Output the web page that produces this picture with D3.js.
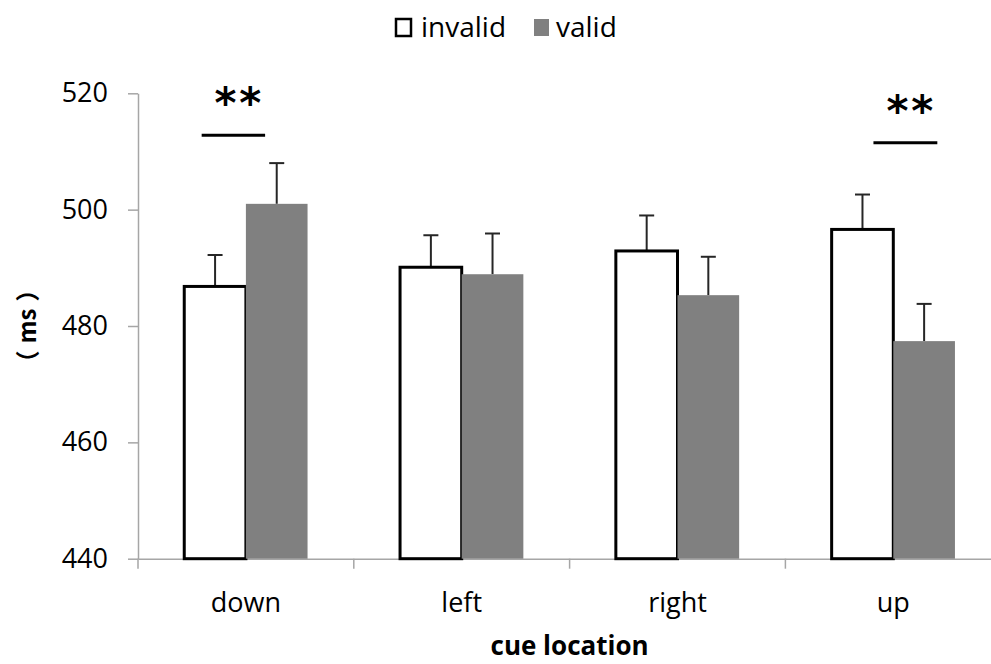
<!DOCTYPE html>
<html>
<head>
<meta charset="utf-8">
<script src="https://cdn.jsdelivr.net/npm/d3@7"></script>
<style>
  body { margin: 0; background: #fff; }
  svg { display: block; font-family: "Open Sans", sans-serif; }
</style>
</head>
<body>
<div id="chart"></div>
<script>
// cue location x condition, mean RT (ms) with standard error
const categories = ['down', 'left', 'right', 'up'];
const conditions = ['invalid', 'valid'];
const invalidMeans = [486.8, 490.1, 492.9, 496.6];
const invalidErrors = [5.4, 5.5, 6.1, 6.0];
const validMeans = [501.0, 488.9, 485.3, 477.4];
const validErrors = [7.0, 7.0, 6.6, 6.4];
const yTicks = [440, 460, 480, 500, 520];

// significance brackets
const sigCategories = ['down', 'up'];
const sigLevels = [512.8, 511.5];
const sigLabels = ['**', '**'];

(function() {
  const width = 991, height = 664;
  const left = 138, right = 1001.2, top = 93.3, bottom = 558.7;

  const svg = d3.select('#chart')
    .append('svg')
    .attr('width', width)
    .attr('height', height);

  const x = d3.scaleBand()
    .domain(categories)
    .range([left, right]);

  const groupWidth = 123.3;
  const xSub = d3.scaleBand()
    .domain(conditions)
    .range([0, groupWidth]);

  const y = d3.scaleLinear()
    .domain([440, 520])
    .range([bottom, top]);

  const axisColor = '#a6a6a6';

  // y axis
  const yAxis = svg.append('g')
    .attr('transform', `translate(${left},0)`)
    .call(d3.axisLeft(y).tickValues(yTicks).tickSize(10).tickSizeOuter(0).tickPadding(20));
  yAxis.selectAll('path, line').attr('stroke', axisColor).attr('stroke-width', 1.5);
  yAxis.selectAll('text')
    .style('font-size', '27px')
    .style('font-family', '"Open Sans", sans-serif')
    .attr('fill', '#000');

  // x axis: labels at band centres, ticks at band edges
  const xAxis = svg.append('g')
    .attr('transform', `translate(0,${bottom})`)
    .call(d3.axisBottom(x).tickSize(0).tickSizeOuter(0).tickPadding(34));
  xAxis.select('.domain').attr('stroke', axisColor).attr('stroke-width', 1.5);
  xAxis.selectAll('text')
    .style('font-size', '27px')
    .style('font-family', '"Open Sans", sans-serif')
    .attr('fill', '#000');

  const edges = categories.map(d => x(d)).concat([x(categories[categories.length - 1]) + x.bandwidth()]);
  svg.append('g')
    .selectAll('line')
    .data(edges)
    .enter()
    .append('line')
    .attr('x1', d => d)
    .attr('x2', d => d)
    .attr('y1', bottom)
    .attr('y2', bottom + 10)
    .attr('stroke', axisColor)
    .attr('stroke-width', 1.5);

  // bar data
  const rows = [];
  categories.forEach((c, i) => {
    rows.push({ cat: c, cond: 'invalid', mean: invalidMeans[i], se: invalidErrors[i] });
    rows.push({ cat: c, cond: 'valid', mean: validMeans[i], se: validErrors[i] });
  });
  const offset = (x.bandwidth() - groupWidth) / 2;
  const barX = d => x(d.cat) + offset + xSub(d.cond);

  // error bars (upper only)
  const err = svg.append('g');
  err.selectAll('.err-v')
    .data(rows)
    .enter()
    .append('line')
    .attr('x1', d => barX(d) + xSub.bandwidth() / 2)
    .attr('x2', d => barX(d) + xSub.bandwidth() / 2)
    .attr('y1', d => y(d.mean))
    .attr('y2', d => y(d.mean + d.se))
    .attr('stroke', '#262626')
    .attr('stroke-width', 2);
  err.selectAll('.err-cap')
    .data(rows)
    .enter()
    .append('line')
    .attr('x1', d => barX(d) + xSub.bandwidth() / 2 - 7.5)
    .attr('x2', d => barX(d) + xSub.bandwidth() / 2 + 7.5)
    .attr('y1', d => y(d.mean + d.se))
    .attr('y2', d => y(d.mean + d.se))
    .attr('stroke', '#262626')
    .attr('stroke-width', 2);

  // bars
  svg.append('g')
    .selectAll('rect')
    .data(rows)
    .enter()
    .append('rect')
    .attr('x', barX)
    .attr('y', d => y(d.mean))
    .attr('width', xSub.bandwidth())
    .attr('height', d => y(440) - y(d.mean))
    .attr('fill', d => d.cond === 'invalid' ? '#fff' : '#808080')
    .attr('stroke', d => d.cond === 'invalid' ? '#000' : 'none')
    .attr('stroke-width', 3);

  // significance markers
  const sigSpan = { down: [0.295, 0.589], up: [0.408, 0.704] };
  sigCategories.forEach((c, i) => {
    const x0 = x(c) + sigSpan[c][0] * x.bandwidth();
    const x1 = x(c) + sigSpan[c][1] * x.bandwidth();
    const ly = y(sigLevels[i]);
    svg.append('line')
      .attr('x1', x0)
      .attr('x2', x1)
      .attr('y1', ly)
      .attr('y2', ly)
      .attr('stroke', '#000')
      .attr('stroke-width', 3);
    svg.append('text')
      .attr('x', (x0 + x1) / 2 + 6)
      .attr('y', ly - 17)
      .attr('text-anchor', 'middle')
      .style('font-size', '42px')
      .style('font-weight', 'bold')
      .style('font-family', '"DejaVu Sans", sans-serif')
      .style('letter-spacing', '3px')
      .text(sigLabels[i]);
  });

  // axis titles
  svg.append('text')
    .attr('x', (left + right) / 2)
    .attr('y', 655)
    .attr('text-anchor', 'middle')
    .style('font-size', '26px')
    .style('font-weight', 'bold')
    .text('cue location');

  const yTitle = svg.append('text')
    .attr('transform', `translate(36,${(top + bottom) / 2}) rotate(-90)`)
    .attr('text-anchor', 'middle')
    .style('font-size', '24px')
    .style('font-weight', 'bold')
    .style('font-family', '"Noto Sans CJK SC", sans-serif');
  yTitle.append('tspan').text('（');
  yTitle.append('tspan').attr('dx', 7).text('ms');
  yTitle.append('tspan').attr('dx', 7).text('）');

  // legend
  const legend = svg.append('g');
  const legendItems = [
    { label: 'invalid', x: 395, tx: 421 },
    { label: 'valid', x: 533, tx: 556 }
  ];
  legendItems.forEach(d => {
    legend.append('rect')
      .attr('x', d.x + 1)
      .attr('y', 19)
      .attr('width', 15)
      .attr('height', 17)
      .attr('fill', d.label === 'invalid' ? '#fff' : '#808080')
      .attr('stroke', d.label === 'invalid' ? '#000' : 'none')
      .attr('stroke-width', 2.5);
    legend.append('text')
      .attr('x', d.tx)
      .attr('y', 37)
      .style('font-size', '28px')
      .text(d.label);
  });
})();
</script>
</body>
</html>
